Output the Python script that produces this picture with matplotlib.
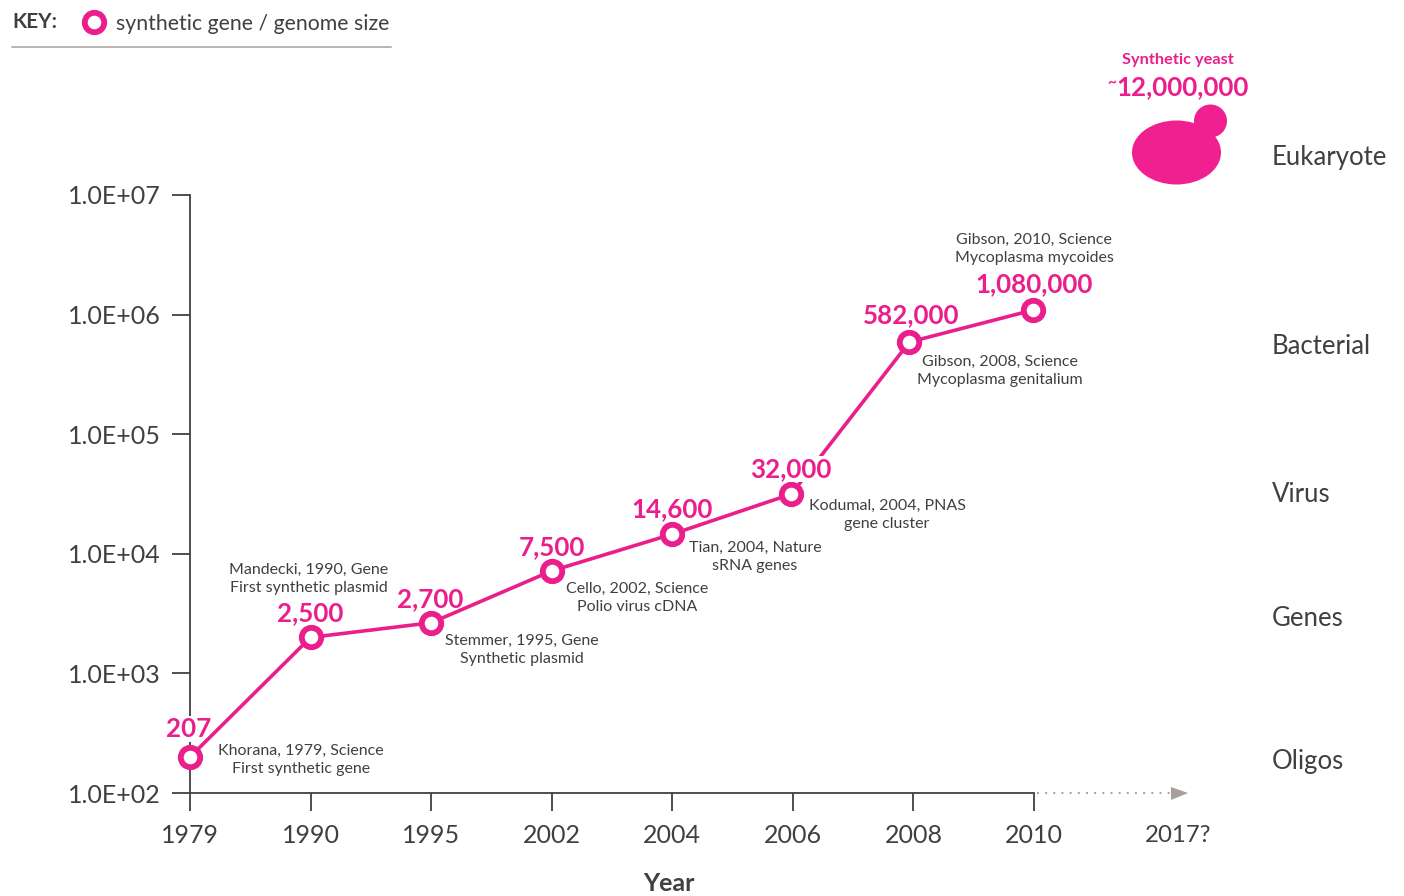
import matplotlib
matplotlib.use("Agg")
import matplotlib.pyplot as plt
from matplotlib.patches import Ellipse, Circle, Polygon
from matplotlib.ticker import FixedLocator, FixedFormatter, NullLocator

plt.rcParams['font.family'] = ['Lato', 'DejaVu Sans']

years = ['1979', '1990', '1995', '2002', '2004', '2006', '2008', '2010']
future_year = '2017?'
plotted_sizes = [200, 2000, 2650, 7200, 14600, 31600, 590000, 1090000]
size_labels = ['207', '2,500', '2,700', '7,500', '14,600', '32,000', '582,000', '1,080,000']
citations = [
    'Khorana, 1979, Science\nFirst synthetic gene',
    'Mandecki, 1990, Gene\nFirst synthetic plasmid',
    'Stemmer, 1995, Gene\nSynthetic plasmid',
    'Cello, 2002, Science\nPolio virus cDNA',
    'Tian, 2004, Nature\nsRNA genes',
    'Kodumal, 2004, PNAS\ngene cluster',
    'Gibson, 2008, Science\nMycoplasma genitalium',
    'Gibson, 2010, Science\nMycoplasma mycoides',
]
y_ticks = [1e2, 1e3, 1e4, 1e5, 1e6, 1e7]
y_tick_labels = ['1.0E+02', '1.0E+03', '1.0E+04', '1.0E+05', '1.0E+06', '1.0E+07']
classes = ['Eukaryote', 'Bacterial', 'Virus', 'Genes', 'Oligos']

PINK = '#ea1f8c'
INK = '#404040'
GREY = '#a89f9b'
W, H = 1404, 896

fig = plt.figure(figsize=(W / 100, H / 100), dpi=100, facecolor='white')
ax = fig.add_axes([190 / W, 1 - 793 / H, (1034 - 190) / W, (793 - 195) / H])
ax.set_yscale('log')
ax.set_ylim(1e2, 1e7)
ax.set_xlim(0, len(years) - 1)
for s in ('top', 'right'):
    ax.spines[s].set_visible(False)
for s in ('left', 'bottom'):
    ax.spines[s].set_color(INK)
    ax.spines[s].set_linewidth(1.3)
ax.yaxis.set_major_locator(FixedLocator(y_ticks))
ax.yaxis.set_major_formatter(FixedFormatter(y_tick_labels))
ax.yaxis.set_minor_locator(NullLocator())
ax.set_xticks(range(len(years)))
ax.set_xticklabels(years)
ax.tick_params(axis='both', length=13, width=1.3, color=INK, labelcolor=INK, labelsize=18)
ax.tick_params(axis='y', pad=8)
ax.tick_params(axis='x', pad=9)
ax.set_xlabel('Year', fontsize=18, fontweight='bold', color=INK, va='center')
ax.xaxis.set_label_coords((669 - 190) / (1034 - 190), (793 - 883) / (793 - 195))
ax.patch.set_alpha(0)
ax.set_zorder(1)

# markers sit slightly off their ticks in the original artwork
marker_x = [0, 1, 2, 3, 4, 4.988, 5.967, 6.99]
ax.plot(marker_x, plotted_sizes, color=PINK, lw=2.6, marker='o', ms=14, mfc='white',
        mec=PINK, mew=4.2, clip_on=False, zorder=5)

top = fig.add_axes([0, 0, 1, 1], zorder=2)
top.set_xlim(0, W)
top.set_ylim(H, 0)
top.axis('off')
top.patch.set_alpha(0)

value_pos = [(189, 729), (310, 613), (430, 599), (552, 547), (672, 509),
             (791, 469), (911, 315), (1034, 284)]
for i, ((x, y), t) in enumerate(zip(value_pos, size_labels)):
    if t == '207':
        # knocks out the axis, but stays beneath the pink line
        ax.text(x, y, t, transform=top.transData, color=PINK, fontsize=18.7, fontweight='bold',
                ha='center', va='center', zorder=4, clip_on=False,
                bbox=dict(fc='white', ec='none', pad=1.0))
    elif t == '32,000':
        top.text(x, y, t, color=PINK, fontsize=18.7, fontweight='bold', ha='center', va='center',
                 bbox=dict(fc='white', ec='none', pad=1.0))
    else:
        top.text(x, y, t, color=PINK, fontsize=18.7, fontweight='bold', ha='center', va='center')

cite_pos = [(301, 760), (309, 579), (522, 650), (637, 598), (755, 557),
            (887, 515), (1000, 371), (1034, 249)]
for (x, y), t in zip(cite_pos, citations):
    top.text(x, y, t, color=INK, fontsize=11.5, ha='center', va='center', linespacing=1.42)

class_pos = [158, 347, 495, 619, 762]
for y, t in zip(class_pos, classes):
    top.text(1272, y, t, color=INK, fontsize=18.5, ha='left', va='center')

# future extension of the axis
top.text(1178, 835, future_year, color=INK, fontsize=17.3, ha='center', va='center')
top.plot([1037, 1172], [793, 793], color=GREY, lw=1.4, ls=(0, (1, 3.2)))
top.add_patch(Polygon([[1171, 787], [1188, 793], [1171, 800]], closed=True, fc=GREY, ec='none'))

# key
top.text(12, 22, 'KEY:', color=INK, fontsize=15, fontweight='bold', ha='left', va='center')
top.plot([93.5], [22.5], marker='o', ms=14, mfc='white', mec=PINK, mew=4.2)
top.text(116, 24, 'synthetic gene / genome size', color=INK, fontsize=15.3, ha='left', va='center')
top.plot([12, 391], [47, 47], color=GREY, lw=1.1)

# synthetic yeast
top.text(1178, 60, 'Synthetic yeast', color=PINK, fontsize=11.8, fontweight='bold', ha='center', va='center')
top.text(1182.5, 87, '12,000,000', color=PINK, fontsize=18.6, fontweight='bold', ha='center', va='center')
top.text(1112, 83, '~', color=PINK, fontsize=11, fontweight='bold', ha='center', va='center')
top.add_patch(Ellipse((1176.5, 152.5), 89, 64, fc='#f02090', ec='none'))
top.add_patch(Circle((1210.5, 121), 16.5, fc='#f02090', ec='none'))

fig.savefig('out.png', dpi=100, facecolor='white')
